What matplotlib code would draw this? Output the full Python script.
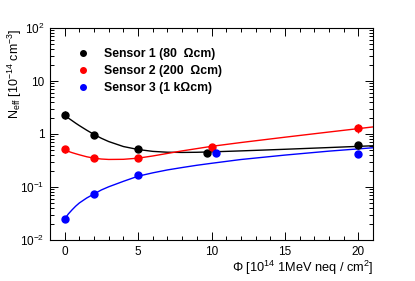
import numpy as np
import matplotlib
matplotlib.use('Agg')
from matplotlib import pyplot as plt
from matplotlib import font_manager
from matplotlib.lines import Line2D
from matplotlib.ticker import FixedLocator, LogLocator, NullFormatter, MultipleLocator

plt.rcParams['font.family'] = ['Liberation Sans', 'DejaVu Sans']
plt.rcParams['mathtext.fontset'] = 'custom'
plt.rcParams['mathtext.rm'] = 'Liberation Sans'
plt.rcParams['mathtext.it'] = 'Liberation Sans:italic'

# measured points
s1_x = [0, 2, 5, 9.7, 20]
s1_y = [2.28, 0.95, 0.53, 0.43, 0.61]
s1_err = [0.4, 0.1, 0.05, 0.04, 0.08]

s2_x = [0, 2, 5, 10, 20]
s2_y = [0.51, 0.35, 0.35, 0.57, 1.3]
s2_err = [0.08, 0.04, 0.04, 0.09, 0.25]

s3_x = [0, 2, 5, 10.3, 20]
s3_y = [0.025, 0.073, 0.168, 0.445, 0.425]
s3_err = [0.003, 0.008, 0.015, 0.06, 0.06]

# fit curves
fit_x = [0, 0.25, 0.5, 0.75, 1, 1.5, 2, 2.5, 3, 4, 5, 6, 7, 8, 9, 10, 12, 15, 18, 21]
fit1 = [2.25, 2.0, 1.79, 1.60, 1.44, 1.18, 0.98, 0.83, 0.72, 0.58, 0.51, 0.47, 0.453,
        0.449, 0.452, 0.46, 0.48, 0.515, 0.555, 0.60]
fit2 = [0.50, 0.47, 0.445, 0.424, 0.405, 0.372, 0.35, 0.337, 0.331, 0.333, 0.35, 0.385,
        0.43, 0.48, 0.53, 0.585, 0.69, 0.87, 1.09, 1.36]
fit3 = [0.025, 0.031, 0.037, 0.0435, 0.050, 0.062, 0.074, 0.088, 0.101, 0.128, 0.16,
        0.185, 0.21, 0.233, 0.257, 0.28, 0.33, 0.40, 0.475, 0.55]

labels = ['Sensor 1 (80  \u03a9cm)', 'Sensor 2 (200  \u03a9cm)', 'Sensor 3 (1 k\u03a9cm)']
colors = ['black', '#ff0000', '#0000ff']

# pick the normal-width Liberation Sans Bold file
bold_file = None
for f in font_manager.findSystemFonts():
    if f.endswith('LiberationSans-Bold.ttf'):
        bold_file = f
        break
if bold_file:
    legend_font = font_manager.FontProperties(fname=bold_file, size=8.8)
else:
    legend_font = font_manager.FontProperties(weight='bold', size=8.8)

fig = plt.figure(figsize=(4.15, 2.81), dpi=100)
ax = fig.add_axes([50 / 415, 41 / 281, 323 / 415, 212 / 281])

for xs, ys, es, fit, c in zip([s1_x, s2_x, s3_x], [s1_y, s2_y, s3_y],
                              [s1_err, s2_err, s3_err], [fit1, fit2, fit3], colors):
    ax.plot(fit_x, fit, color=c, lw=1.0, zorder=2)
    ax.errorbar(xs, ys, yerr=es, fmt='o', color=c, ms=5, elinewidth=0.8,
                capsize=0, zorder=3)

ax.set_yscale('log')
ax.set_xlim(-1, 21)
ax.set_ylim(1e-2, 1e2)

ax.xaxis.set_major_locator(FixedLocator([0, 5, 10, 15, 20]))
ax.xaxis.set_minor_locator(MultipleLocator(1))
ax.yaxis.set_major_locator(FixedLocator([1e-2, 1e-1, 1, 10, 100]))
ax.yaxis.set_minor_locator(LogLocator(base=10, subs=np.arange(2, 10)))
ax.yaxis.set_minor_formatter(NullFormatter())
ax.set_yticklabels(['$10^{-2}$', '$10^{-1}$', '1', '10', '$10^{2}$'])
ax.tick_params(which='both', direction='in', top=True, right=True, labelsize=8.5,
               width=0.7, colors='black')
ax.tick_params(which='major', length=5.5, pad=4)
ax.tick_params(which='minor', length=2.8)
for sp in ax.spines.values():
    sp.set_linewidth(0.8)

fig.text(373 / 415, 1 - 268 / 281, r'$\Phi$ [10$^{14}$ 1MeV neq / cm$^{2}$]',
         ha='right', va='center', fontsize=9.2)
fig.text(15 / 415, 1 - 28 / 281, r'N$_{\rm eff}$ [10$^{-14}$ cm$^{-3}$]',
         ha='center', va='top', rotation=90, fontsize=9)

handles = [Line2D([], [], ls='none', marker='o', ms=4, color=c) for c in colors]
ax.legend(handles, labels, loc='upper left', bbox_to_anchor=(76.9 / 415, 1 - 48 / 281),
          bbox_transform=fig.transFigure, frameon=False, handlelength=1.0,
          handletextpad=1.22, labelspacing=0.42, borderpad=0, borderaxespad=0,
          prop=legend_font)

fig.savefig('out.png', dpi=100)
